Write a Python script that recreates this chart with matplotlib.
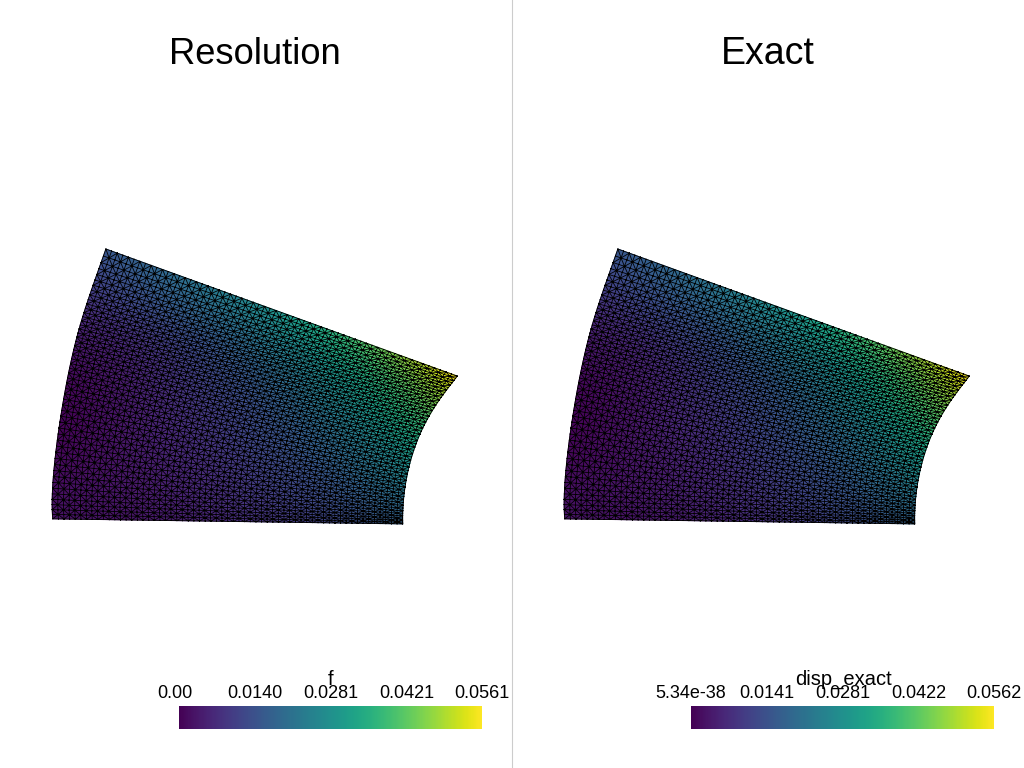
import numpy as np
import matplotlib
matplotlib.use('Agg')
import matplotlib.pyplot as plt
import matplotlib.tri as mtri
from matplotlib.cm import ScalarMappable
from matplotlib.colors import Normalize
from matplotlib.lines import Line2D
from matplotlib.transforms import ScaledTranslation

plt.rcParams['font.family'] = ['Liberation Sans', 'DejaVu Sans']

# outline of the sector (bottom edge to top edge)
outer_x = [52.7, 54.0, 60.0, 68.3, 78.3, 88.3, 106.0]
outer_y = [519.0, 471.7, 421.7, 371.7, 335.0, 298.0, 249.0]
inner_x = [402.7, 403.3, 406.7, 415.0, 426.7, 441.7, 457.3]
inner_y = [524.0, 503.0, 476.7, 446.7, 420.0, 396.7, 376.0]

# field values, one row per station above, outer arc to inner arc
f_values = [
    [0.0028, 0.0028, 0.0039, 0.0056, 0.0079, 0.0101, 0.0135, 0.0174],
    [0.0017, 0.0028, 0.0045, 0.0067, 0.0095, 0.0123, 0.0157, 0.0202],
    [0.0006, 0.0028, 0.0056, 0.0084, 0.0118, 0.0151, 0.0196, 0.0258],
    [0.0017, 0.0039, 0.0073, 0.0107, 0.0146, 0.0191, 0.0252, 0.0325],
    [0.0045, 0.0067, 0.0101, 0.0140, 0.0185, 0.0247, 0.0320, 0.0398],
    [0.0090, 0.0118, 0.0151, 0.0191, 0.0247, 0.0314, 0.0393, 0.0477],
    [0.0151, 0.0185, 0.0224, 0.0269, 0.0325, 0.0398, 0.0477, 0.0561],
]
exact_values = [
    [0.0028, 0.0028, 0.0039, 0.0056, 0.0079, 0.0104, 0.0140, 0.0180],
    [0.0017, 0.0028, 0.0045, 0.0067, 0.0095, 0.0126, 0.0163, 0.0213],
    [0.0006, 0.0028, 0.0056, 0.0084, 0.0118, 0.0154, 0.0202, 0.0270],
    [0.0017, 0.0039, 0.0073, 0.0107, 0.0146, 0.0194, 0.0258, 0.0337],
    [0.0045, 0.0067, 0.0101, 0.0140, 0.0185, 0.0250, 0.0326, 0.0410],
    [0.0090, 0.0118, 0.0151, 0.0191, 0.0247, 0.0317, 0.0398, 0.0485],
    [0.0151, 0.0185, 0.0224, 0.0269, 0.0325, 0.0400, 0.0480, 0.0562],
]

f_ticks = [0.0, 0.0140, 0.0281, 0.0421, 0.0561]
f_labels = ['0.00', '0.0140', '0.0281', '0.0421', '0.0561']
exact_ticks = [5.34e-38, 0.0141, 0.0281, 0.0422, 0.0562]
exact_labels = ['5.34e-38', '0.0141', '0.0281', '0.0422', '0.0562']

cells_along = 52
cells_across = 62


def cell_triangles(rows, cols):
    # rows x cols nodes, diagonal flips from cell to cell so the nodes form stars
    triangles = []
    for i in range(rows - 1):
        for j in range(cols - 1):
            a = i * cols + j
            b = a + 1
            c = a + cols
            d = c + 1
            if (i + j) % 2 == 0:
                triangles += [[a, b, d], [a, d, c]]
            else:
                triangles += [[a, b, c], [b, d, c]]
    return triangles


def build_mesh():
    # the grid lives in (station, column) space, then gets bent onto the outline
    t = np.linspace(0, len(outer_x) - 1, cells_along + 1)
    s = np.linspace(0, len(f_values[0]) - 1, cells_across + 1)
    tt, ss = np.meshgrid(t, s, indexing='ij')
    stations = np.arange(len(outer_x))
    frac = ss / ss.max()
    x = (np.polyval(np.polyfit(stations, outer_x, 4), tt) * (1 - frac)
         + np.polyval(np.polyfit(stations, inner_x, 4), tt) * frac)
    y = (np.polyval(np.polyfit(stations, outer_y, 4), tt) * (1 - frac)
         + np.polyval(np.polyfit(stations, inner_y, 4), tt) * frac)
    triangles = cell_triangles(len(t), len(s))
    mesh = mtri.Triangulation(x.ravel(), y.ravel(), triangles)
    return mesh, tt.ravel(), ss.ravel()


def sample_field(values, tt, ss):
    values = np.array(values)
    rows, cols = values.shape
    i, j = np.meshgrid(np.arange(rows), np.arange(cols), indexing='ij')
    coarse = mtri.Triangulation(i.ravel().astype(float), j.ravel().astype(float),
                                cell_triangles(rows, cols))
    interp = mtri.CubicTriInterpolator(coarse, values.ravel())
    # keep the edge nodes just inside the table
    sampled = interp(np.clip(tt, 1e-6, rows - 1 - 1e-6),
                     np.clip(ss, 1e-6, cols - 1 - 1e-6))
    return np.ma.filled(sampled, 0.0)


def draw_panel(ax, mesh, field, vmax):
    ax.tripcolor(mesh, field, shading='gouraud', cmap='viridis', vmin=0, vmax=vmax)
    ax.triplot(mesh, color='black', lw=0.6)
    ax.set_xlim(0, 512)
    ax.set_ylim(768, 0)
    ax.axis('off')


def draw_colorbar(fig, left, ticks, labels, title, title_x):
    cax = fig.add_axes([left / 1024, 39 / 768, 303 / 1024, 23 / 768])
    sm = ScalarMappable(Normalize(ticks[0], ticks[-1]), cmap='viridis')
    cbar = fig.colorbar(sm, cax=cax, orientation='horizontal',
                        ticklocation='top', ticks=ticks)
    cbar.ax.set_xticklabels(labels, fontsize=13)
    cbar.ax.tick_params(length=0, pad=3.0)
    cbar.outline.set_visible(False)
    fig.text(title_x / 1024, 1 - 685 / 768, title, fontsize=14.5,
             ha='center', va='baseline')
    return cbar


def main():
    fig = plt.figure(figsize=(10.24, 7.68), dpi=100)
    mesh, tt, ss = build_mesh()

    ax_left = fig.add_axes([0, 0, 0.5, 1])
    draw_panel(ax_left, mesh, sample_field(f_values, tt, ss), f_ticks[-1])
    ax_right = fig.add_axes([0.5, 0, 0.5, 1])
    draw_panel(ax_right, mesh, sample_field(exact_values, tt, ss), exact_ticks[-1])

    cbar = draw_colorbar(fig, 179, f_ticks, f_labels, 'f', 331)
    first = cbar.ax.get_xticklabels()[0]
    first.set_transform(first.get_transform()
                        + ScaledTranslation(-0.045, 0, fig.dpi_scale_trans))
    draw_colorbar(fig, 691, exact_ticks, exact_labels, 'disp_exact', 844)

    fig.text(255 / 1024, 1 - 64 / 768, 'Resolution', fontsize=26.2,
             ha='center', va='baseline')
    fig.text(768 / 1024, 1 - 64 / 768, 'Exact', fontsize=27,
             ha='center', va='baseline')
    fig.add_artist(Line2D([0.5, 0.5], [0, 1], color='#cccccc', lw=0.8))

    fig.savefig('out.png', dpi=100)


if __name__ == "__main__":
    main()
